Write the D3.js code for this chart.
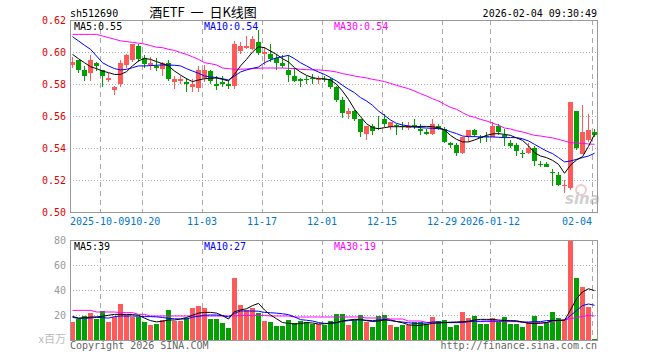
<!DOCTYPE html>
<html lang="zh">
<head>
<meta charset="UTF-8">
<title>酒ETF 日K线图</title>
<script src="https://d3js.org/d3.v7.min.js"></script>
<style>
  body { margin: 0; background: #fff; }
  svg text { font-family: "DejaVu Sans Mono", monospace; font-size: 10px; }
  .grid { stroke: #aaa; stroke-dasharray: 1,2; shape-rendering: crispEdges; }
  .vgrid { stroke: #aaa; stroke-dasharray: 5,4; shape-rendering: crispEdges; }
  .frame { fill: none; stroke: #999; shape-rendering: crispEdges; }
  .ma { fill: none; stroke-width: 1; }
</style>
</head>
<body>
<script>
// trading days shown on the chart
const dates = [
  "2025-09-24","2025-09-25","2025-09-26","2025-09-29","2025-09-30",
  "2025-10-09","2025-10-10","2025-10-13","2025-10-14","2025-10-15","2025-10-16","2025-10-17",
  "2025-10-20","2025-10-21","2025-10-22","2025-10-23","2025-10-24",
  "2025-10-27","2025-10-28","2025-10-29","2025-10-30","2025-10-31",
  "2025-11-03","2025-11-04","2025-11-05","2025-11-06","2025-11-07",
  "2025-11-10","2025-11-11","2025-11-12","2025-11-13","2025-11-14",
  "2025-11-17","2025-11-18","2025-11-19","2025-11-20","2025-11-21",
  "2025-11-24","2025-11-25","2025-11-26","2025-11-27","2025-11-28",
  "2025-12-01","2025-12-02","2025-12-03","2025-12-04","2025-12-05",
  "2025-12-08","2025-12-09","2025-12-10","2025-12-11","2025-12-12",
  "2025-12-15","2025-12-16","2025-12-17","2025-12-18","2025-12-19",
  "2025-12-22","2025-12-23","2025-12-24","2025-12-25","2025-12-26",
  "2025-12-29","2025-12-30","2025-12-31",
  "2026-01-05","2026-01-06","2026-01-07","2026-01-08","2026-01-09",
  "2026-01-12","2026-01-13","2026-01-14","2026-01-15","2026-01-16",
  "2026-01-19","2026-01-20","2026-01-21","2026-01-22","2026-01-23",
  "2026-01-26","2026-01-27","2026-01-28","2026-01-29","2026-01-30",
  "2026-02-02","2026-02-03","2026-02-04"
];

const open = [0.592,0.595,0.589,0.587,0.593,0.589,0.583,0.576,0.580,0.592,
  0.595,0.604,0.596,0.592,0.591,0.589,0.593,0.581,0.582,0.581,
  0.578,0.578,0.584,0.588,0.580,0.581,0.580,0.579,0.601,0.603,
  0.602,0.606,0.599,0.599,0.596,0.593,0.589,0.585,0.583,0.5832,
  0.5838,0.5826,0.5832,0.583,0.578,0.570,0.561,0.563,0.558,0.549,
  0.554,0.5524,0.558,0.553,0.5544,0.5538,0.553,0.5542,0.552,0.550,
  0.549,0.554,0.552,0.543,0.542,0.537,0.547,0.551,0.5471,0.5477,
  0.547,0.554,0.548,0.543,0.542,0.5368,0.537,0.540,0.5301,0.530,
  0.5253,0.523,0.5163,0.515,0.563,0.536,0.545,0.5502];
const high = [0.597,0.595,0.591,0.598,0.594,0.589,0.587,0.579,0.595,0.599,
  0.605,0.605,0.598,0.597,0.596,0.594,0.595,0.585,0.585,0.584,
  0.583,0.591,0.592,0.589,0.585,0.585,0.582,0.607,0.606,0.610,
  0.610,0.614,0.603,0.605,0.599,0.598,0.598,0.590,0.584,0.585,
  0.5865,0.585,0.585,0.584,0.579,0.572,0.565,0.564,0.558,0.554,
  0.555,0.560,0.561,0.556,0.555,0.556,0.556,0.558,0.555,0.552,
  0.558,0.555,0.553,0.544,0.543,0.547,0.551,0.552,0.548,0.550,
  0.556,0.555,0.552,0.545,0.543,0.5385,0.543,0.541,0.532,0.5315,
  0.527,0.525,0.520,0.569,0.563,0.567,0.561,0.552];
const low = [0.590,0.587,0.582,0.582,0.588,0.578,0.581,0.573,0.578,0.590,
  0.594,0.594,0.590,0.589,0.588,0.585,0.582,0.577,0.580,0.575,
  0.575,0.575,0.581,0.580,0.576,0.578,0.577,0.577,0.599,0.602,
  0.601,0.598,0.592,0.594,0.589,0.590,0.581,0.581,0.578,0.580,
  0.580,0.580,0.581,0.577,0.569,0.559,0.558,0.557,0.547,0.545,
  0.548,0.551,0.553,0.551,0.548,0.551,0.551,0.552,0.548,0.548,
  0.548,0.551,0.543,0.540,0.535,0.536,0.544,0.547,0.543,0.544,
  0.547,0.548,0.541,0.540,0.535,0.534,0.536,0.529,0.528,0.528,
  0.516,0.516,0.512,0.514,0.539,0.536,0.544,0.547];
const close = [0.594,0.589,0.585,0.595,0.591,0.585,0.584,0.578,0.593,0.598,
  0.605,0.596,0.592,0.593,0.590,0.593,0.583,0.583,0.583,0.580,
  0.580,0.589,0.589,0.582,0.579,0.580,0.579,0.605,0.604,0.604,
  0.608,0.599,0.600,0.596,0.593,0.591,0.586,0.582,0.582,0.5828,
  0.5832,0.5832,0.5826,0.578,0.570,0.562,0.563,0.558,0.550,0.554,
  0.551,0.5518,0.555,0.556,0.5538,0.5532,0.554,0.5532,0.551,0.549,
  0.555,0.552,0.544,0.542,0.537,0.547,0.551,0.548,0.5465,0.5473,
  0.554,0.550,0.547,0.541,0.538,0.5364,0.540,0.532,0.5297,0.5283,
  0.5249,0.517,0.5168,0.569,0.540,0.550,0.551,0.5486];

// volume, x百万
const volume = [14.4,17.1,19.2,21.6,16.8,22.9,14.4,18.7,28.8,19.7,
  18.4,18.4,14.4,12.0,12.8,15.7,24.0,15.2,15.2,17.9,
  25.6,27.2,25.9,16.8,16.8,13.6,9.6,49.6,28.0,23.7,
  25.9,21.6,15.2,14.4,11.2,11.2,16.0,13.6,15.2,14.4,
  12.8,12.8,12.3,15.2,20.8,20.8,12.0,16.0,20.0,14.4,
  10.4,19.2,20.0,12.0,10.4,12.0,12.0,14.4,14.4,12.8,
  18.4,15.2,16.0,10.4,12.0,22.4,17.6,19.2,12.8,12.8,
  17.6,14.4,18.4,12.8,12.8,10.4,14.4,19.2,11.2,14.4,
  22.4,17.6,16.8,80.0,49.6,42.4,26.4,0.8];

// moving averages as drawn on the price panel
const ma5 = [0.5985,0.5958,0.5933,0.5908,0.5896,0.5881,0.5871,0.586,0.586,0.5877,
  0.5913,0.5944,0.596,0.5954,0.594,0.5927,0.5913,0.5881,0.5856,0.5833,
  0.5815,0.5825,0.5833,0.5835,0.5838,0.5829,0.5819,0.586,0.5913,0.5954,
  0.600,0.6033,0.6027,0.6006,0.5985,0.5958,0.5938,0.5902,0.5875,0.5854,
  0.584,0.5833,0.5833,0.5825,0.5798,0.5756,0.5704,0.5642,0.5596,0.5552,
  0.5527,0.5521,0.5527,0.5533,0.5533,0.5533,0.5533,0.5531,0.5535,0.5535,
  0.5533,0.5527,0.5513,0.5479,0.5454,0.5438,0.5438,0.545,0.5465,0.5479,
  0.5488,0.549,0.5485,0.5479,0.5463,0.5448,0.5413,0.5371,0.535,0.534,
  0.5323,0.5298,0.5242,0.5293,0.5325,0.5346,0.541,0.5486];
const ma10 = [0.6096,0.6069,0.6042,0.6017,0.5975,0.5933,0.5913,0.5896,0.5888,0.5892,
  0.5902,0.5913,0.5913,0.5915,0.5917,0.5919,0.5919,0.5917,0.5913,0.5896,
  0.5881,0.5867,0.585,0.5844,0.584,0.5833,0.5825,0.585,0.5875,0.5888,
  0.5898,0.5906,0.5933,0.595,0.5963,0.5971,0.5979,0.5958,0.5933,0.5913,
  0.5892,0.5875,0.586,0.584,0.5819,0.5792,0.5767,0.5746,0.5715,0.5694,
  0.5667,0.5631,0.5604,0.5575,0.5554,0.5544,0.5538,0.5533,0.5527,0.5525,
  0.5523,0.5521,0.5515,0.5502,0.549,0.5475,0.5471,0.5471,0.5469,0.5469,
  0.5469,0.5467,0.5465,0.5465,0.5465,0.5458,0.5444,0.5423,0.5402,0.5381,
  0.5365,0.534,0.5313,0.5319,0.5329,0.534,0.535,0.5367];
const ma30 = [0.611,0.611,0.611,0.611,0.611,0.610,0.609,0.608,0.607,0.6065,
  0.606,0.6055,0.605,0.604,0.603,0.6027,0.6017,0.601,0.5996,0.5985,
  0.597,0.5954,0.5933,0.5927,0.5919,0.590,0.5896,0.5892,0.5892,0.5894,
  0.5896,0.5898,0.590,0.590,0.590,0.590,0.5898,0.5896,0.5892,0.589,
  0.5888,0.5888,0.5885,0.5881,0.5875,0.5865,0.5858,0.585,0.5844,0.5838,
  0.5829,0.5823,0.5815,0.5804,0.5792,0.5781,0.5771,0.5756,0.574,0.5725,
  0.5708,0.5694,0.5673,0.5654,0.5642,0.5621,0.5602,0.5592,0.5579,0.5569,
  0.5556,0.5542,0.5525,0.5519,0.5508,0.550,0.549,0.5479,0.5475,0.5469,
  0.5463,0.5454,0.5444,0.5433,0.5431,0.5429,0.5425,0.5423];

// moving averages on the volume panel
const vma5 = [18.9,17.5,18.0,18.3,18.5,19.0,19.8,20.5,20.5,20.5,
  20.3,19.8,17.5,15.5,14.5,15.0,16.0,16.0,16.8,18.0,
  19.8,21.5,22.1,22.1,21.5,19.5,16.8,22.7,24.0,25.0,
  27.5,29.3,24.0,20.0,17.0,14.0,13.3,12.8,13.2,13.9,
  13.6,12.8,13.0,13.5,14.0,15.2,16.0,16.5,16.5,15.5,
  14.8,15.2,16.0,16.0,14.8,13.8,12.2,11.7,11.7,12.5,
  13.3,13.6,13.9,14.2,14.4,14.7,15.0,16.0,16.5,16.5,
  16.5,16.0,15.7,15.5,15.2,14.5,13.3,13.3,13.3,14.0,
  15.5,15.7,15.7,24.0,33.0,38.5,41.0,39.5];
const vma10 = [18.1,17.3,17.3,17.6,18.1,17.9,17.5,18.7,19.2,19.2,
  19.2,19.0,18.7,18.7,18.5,18.0,17.3,17.0,16.8,16.8,
  18.2,19.0,19.8,20.0,20.0,19.5,18.5,21.3,23.2,23.2,
  23.2,23.0,22.1,21.8,21.5,21.0,20.3,18.5,16.3,15.8,
  15.2,14.0,13.3,13.3,13.8,15.0,15.5,16.0,16.0,15.8,
  15.5,16.0,16.5,15.5,14.8,14.4,13.8,13.3,13.3,13.6,
  14.4,14.4,14.0,13.9,13.9,14.0,14.7,15.0,15.0,15.2,
  15.2,15.2,15.2,15.2,15.2,14.4,14.4,14.7,14.7,15.5,
  15.7,15.7,15.7,19.5,23.5,27.5,28.8,27.8];
const vma30 = [23.7,23.7,23.7,23.7,22.4,22.4,22.4,22.4,21.9,21.9,
  21.9,20.5,20.5,19.2,19.2,19.2,19.2,19.2,19.2,19.2,
  19.2,19.2,19.2,19.2,19.2,19.2,19.2,19.2,19.7,19.7,
  19.7,19.7,19.7,19.2,19.2,19.2,19.2,18.4,18.4,18.4,
  18.4,18.4,18.4,18.4,18.4,18.4,18.4,18.4,18.4,17.6,
  17.6,17.6,17.6,16.8,16.8,16.8,15.2,15.2,15.2,14.1,
  14.1,14.1,14.1,14.1,14.1,14.1,14.7,14.7,14.7,14.7,
  14.7,14.7,14.7,14.7,14.7,14.1,13.9,13.9,13.9,13.9,
  14.7,15.7,16.0,17.1,17.9,18.9,19.7,19.2];

const priceTicks = [0.62, 0.60, 0.58, 0.56, 0.54, 0.52, 0.50];
const volTicks = [80, 60, 40, 20];
const tickDates = ["2025-10-09","2025-10-20","2025-11-03","2025-11-17","2025-12-01",
  "2025-12-15","2025-12-29","2026-01-12","2026-02-04"];
const tickLabels = ["2025-10-09","10-20","11-03","11-17","12-01","12-15","12-29","2026-01-12","02-04"];

const W = 660, H = 360;
const left = 70, right = 597.5;
const upColor = "#ff5a5a", downColor = "#00a000";
const CHAR_W = 6.02;

const svg = d3.select("body").append("svg")
    .attr("width", W).attr("height", H);

const x = d3.scaleBand()
    .domain(dates)
    .range([69.5, right])
    .paddingInner(1/6)
    .paddingOuter(1/12);
const cx = i => x(dates[i]) + x.bandwidth() / 2;

const y = d3.scaleLinear().domain([0.50, 0.62]).range([212, 20]);
const yv = d3.scaleLinear().domain([0, 80]).range([340, 240]);

const rows = dates.map((d, i) => ({
  i, date: d, o: open[i], h: high[i], l: low[i], c: close[i], v: volume[i]
}));
const colorOf = d => d.c >= d.o ? upColor : downColor;

// header
svg.append("text").attr("x", 70).attr("y", 17).text("sh512690");
svg.append("text").attr("x", 203).attr("y", 17)
    .attr("text-anchor", "middle")
    .style("font-family", "'Noto Sans CJK SC', sans-serif")
    .style("font-size", "13px")
    .style("white-space", "pre")
    .text("酒ETF  一  日K线图");
svg.append("text").attr("x", 597).attr("y", 17)
    .attr("text-anchor", "end").text("2026-02-04 09:30:49");

// grids
function panelGrid(scale, ticks, top, bottom) {
  svg.append("g").selectAll("line")
    .data(ticks.filter(t => scale(t) > top + 1 && scale(t) < bottom - 1))
    .join("line").attr("class", "grid")
    .attr("x1", left).attr("x2", right)
    .attr("y1", d => Math.round(scale(d)) + 0.5)
    .attr("y2", d => Math.round(scale(d)) + 0.5);
  svg.append("g").selectAll("line")
    .data(tickDates)
    .join("line").attr("class", "vgrid")
    .attr("x1", d => x(d) + 0.5).attr("x2", d => x(d) + 0.5)
    .attr("y1", top).attr("y2", bottom);
}
panelGrid(y, priceTicks, 20, 212);
panelGrid(yv, [80, 60, 40, 20, 0], 240, 340);

// price axis labels
svg.append("g").selectAll("text")
  .data(priceTicks).join("text")
  .attr("x", 66).attr("y", d => y(d)).attr("dy", "0.35em")
  .attr("text-anchor", "end").attr("fill", "#e00000")
  .text(d3.format(".2f"));

// date labels: centred on the tick, pushed right so they never overlap, kept inside the frame
let prevRight = left;
const labelX = tickDates.map((d, i) => {
  const w = tickLabels[i].length * CHAR_W;
  let lx = Math.max(x(d) - w / 2, prevRight);
  lx = Math.min(lx, 592 - w);
  prevRight = lx + w;
  return lx;
});
svg.append("g").selectAll("text")
  .data(tickDates).join("text")
  .attr("x", (d, i) => labelX[i])
  .attr("y", 225)
  .attr("fill", "#0077cc")
  .text((d, i) => tickLabels[i]);

// sina watermark
const wm = svg.append("g").attr("opacity", 0.55);
wm.append("circle").attr("cx", 581).attr("cy", 190).attr("r", 5)
  .attr("fill", "none").attr("stroke", "#e8a0a0").attr("stroke-width", 2);
wm.append("text").attr("x", 565).attr("y", 204)
  .style("font-family", "'DejaVu Sans', sans-serif")
  .style("font-size", "15px").style("font-weight", "bold").style("font-style", "italic")
  .attr("fill", "#aaa").text("sina");

// candles
const candle = svg.append("g").selectAll("g").data(rows).join("g");
candle.append("line")
  .attr("x1", d => cx(d.i)).attr("x2", d => cx(d.i))
  .attr("y1", d => y(d.h)).attr("y2", d => y(d.l))
  .attr("stroke", colorOf).style("shape-rendering", "crispEdges");
candle.append("rect")
  .attr("x", d => x(d.date)).attr("width", x.bandwidth())
  .attr("y", d => Math.round(y(Math.max(d.o, d.c))))
  .attr("height", d => Math.max(1, Math.round(Math.abs(y(d.o) - y(d.c)))))
  .attr("fill", colorOf).style("shape-rendering", "crispEdges");

// price moving averages
const priceLine = d3.line().x((d, i) => cx(i)).y(d => y(d));
[[ma30, "#ff00ff"], [ma10, "#0000ff"], [ma5, "#000"]].forEach(([s, col]) => {
  svg.append("path").attr("class", "ma").attr("stroke", col).attr("d", priceLine(s));
});

// volume bars
svg.append("g").selectAll("rect").data(rows).join("rect")
  .attr("x", d => x(d.date)).attr("width", x.bandwidth())
  .attr("y", d => Math.round(yv(d.v)))
  .attr("height", d => 340 - Math.round(yv(d.v)))
  .attr("fill", colorOf).style("shape-rendering", "crispEdges");

const volLine = d3.line().x((d, i) => cx(i)).y(d => yv(d));
[[vma30, "#ff00ff"], [vma10, "#0000ff"], [vma5, "#000"]].forEach(([s, col]) => {
  svg.append("path").attr("class", "ma").attr("stroke", col).attr("d", volLine(s));
});

// volume axis labels
svg.append("g").selectAll("text")
  .data(volTicks).join("text")
  .attr("x", 66).attr("y", d => yv(d)).attr("dy", "0.35em")
  .attr("text-anchor", "end").attr("fill", "#999")
  .text(d => d);
svg.append("text").attr("x", 66).attr("y", 343)
  .attr("text-anchor", "end").attr("fill", "#bbb")
  .style("font-family", "'Noto Sans CJK SC', sans-serif").style("font-size", "11px")
  .text("x百万");

// frames
svg.append("rect").attr("class", "frame")
  .attr("x", 70.5).attr("y", 20.5).attr("width", 527).attr("height", 192);
svg.append("rect").attr("class", "frame")
  .attr("x", 70.5).attr("y", 240.5).attr("width", 527).attr("height", 100);

// legends
const last = a => a[a.length - 1];
const legend = (yy, items) => items.forEach(([txt, col], k) => {
  svg.append("text").attr("x", 74 + k * 130).attr("y", yy).attr("fill", col).text(txt);
});
legend(30, [
  ["MA5:" + d3.format(".2f")(last(ma5)), "#000"],
  ["MA10:" + d3.format(".2f")(last(ma10)), "#0000ff"],
  ["MA30:" + d3.format(".2f")(last(ma30)), "#ff00ff"]
]);
legend(250, [
  ["MA5:" + Math.floor(last(vma5)), "#000"],
  ["MA10:" + Math.floor(last(vma10)), "#0000ff"],
  ["MA30:" + Math.floor(last(vma30)), "#ff00ff"]
]);

// footer
svg.append("text").attr("x", 70).attr("y", 349).attr("fill", "#666")
  .text("Copyright 2026 SINA.COM");
svg.append("text").attr("x", 597).attr("y", 349).attr("fill", "#666")
  .attr("text-anchor", "end").text("http://finance.sina.com.cn");
</script>
</body>
</html>
